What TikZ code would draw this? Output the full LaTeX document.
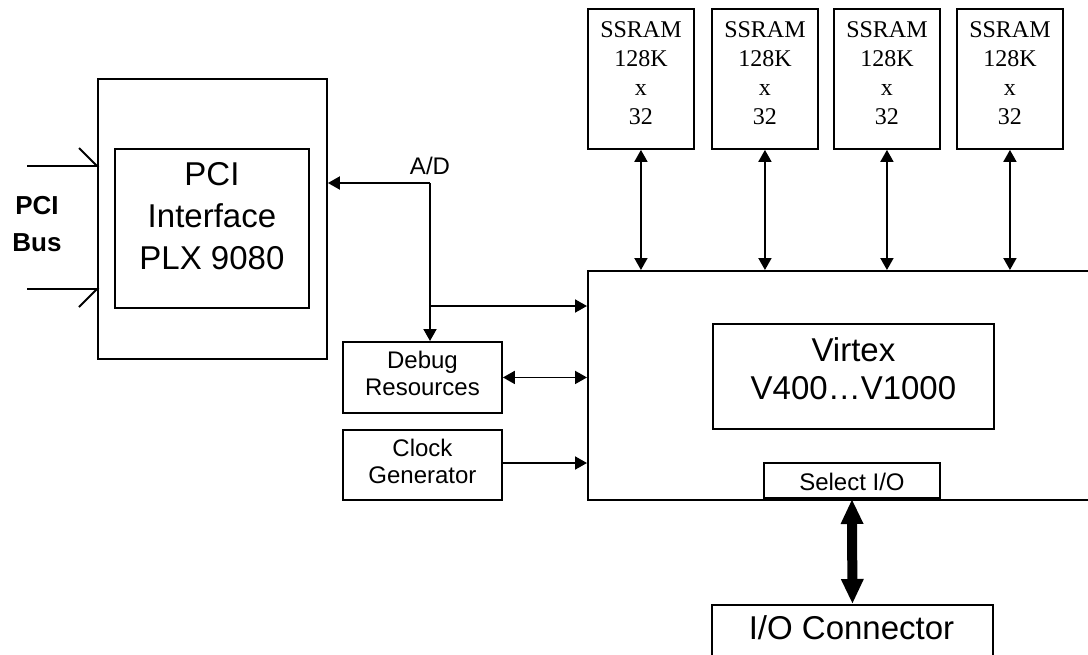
\documentclass[tikz,border=0pt]{standalone}
\usepackage{fontspec}
\setmainfont{Liberation Sans}
\newfontfamily\serifx{Liberation Serif}
\usetikzlibrary{arrows.meta,calc}
\begin{document}
\begin{tikzpicture}[x=1pt,y=-1pt, line width=1.9pt,
 box/.style={draw, inner sep=0pt, anchor=north west, align=center},
 tip/.style={-{Triangle[length=12pt,width=13pt]}},
 dtip/.style={{Triangle[length=12pt,width=13pt]}-{Triangle[length=12pt,width=13pt]}},
 bigf/.style={font=\fontsize{33}{42}\selectfont},
 midf/.style={font=\fontsize{24}{27}\selectfont},
 ssf/.style={font=\serifx\fontsize{24}{29}\selectfont},
 ]
\useasboundingbox (0,0) rectangle (1088,654);
% PCI interface
\node[box, minimum width=229pt, minimum height=280pt] (pci) at (97,78) {};
\node[box, minimum width=194pt, minimum height=159pt] (pciin) at (114,148) {};
\node[bigf, align=center] (pcitxt) at ($(pciin.center)+(0,-12)$) {PCI\\Interface\\PLX 9080};
% PCI bus
\node[font=\bfseries\fontsize{26}{37}\selectfont, align=center] (bus) at (37,224) {PCI\\Bus};
\coordinate (b1) at (27,166);
\coordinate (b2) at (27,289);
\draw (b1) -- (b1 -| pci.west) -- ++(-18,-18);
\draw (b2) -- (b2 -| pci.west) -- ++(-18,18);
% Virtex
\node[box, minimum width=540pt, minimum height=229pt] (vir) at (587,270) {};
\node[box, minimum width=281pt, minimum height=105pt] (virin) at (712,323) {};
\node[align=center, font=\fontsize{33}{38}\selectfont] (virtxt) at ($(virin.center)+(0,-8)$) {Virtex\\V400\ldots V1000};
\node[box, midf, anchor=south west, minimum width=176pt, minimum height=35pt] (sel) at (763,499) {};
\node[midf] (seltxt) at ($(sel.center)+(0,1.5)$) {Select I/O};
% I/O connector
\node[box, minimum width=281pt, minimum height=70pt] (ioc) at (711,604) {};
\node[bigf] (ioctxt) at (851.5,628) {I/O Connector};
\draw[line width=10pt, {Triangle[length=25pt,width=21pt]}-{Triangle[length=25pt,width=21pt]}] (sel.south) -- (ioc.north);
% SSRAMs
\foreach \i/\x in {1/587, 2/711, 3/833, 4/956} {
  \node[box, minimum width=106pt, minimum height=140pt] (s\i) at (\x,8) {};
  \node[ssf, align=center] (st\i) at ($(s\i.center)+(0,-6)$) {SSRAM\\128K\\x\\32};
  \draw[dtip] (s\i.south) -- (s\i.south |- vir.north);
}
% Debug and clock
\node[box, minimum width=159pt, minimum height=71pt] (dbg) at (342,341) {};
\node[midf, align=center] (dbgtxt) at ($(dbg.center)+(0,-4)$) {Debug\\Resources};
\node[box, minimum width=159pt, minimum height=70pt] (clk) at (342,429) {};
\node[midf, align=center] (clktxt) at ($(clk.center)+(0,-4)$) {Clock\\Generator};
% A/D bus
\coordinate (ad) at (430,183);
\node[midf, anchor=south] (adl) at ($(ad)+(0,-4)$) {A/D};
\draw[tip] (ad) -- (ad -| pci.east);
\draw[tip] (ad) -- (ad |- dbg.north);
\coordinate (br) at (430,306);
\draw[tip] (br) -- (br -| vir.west);
\draw[dtip] (dbg.east) -- (dbg.east -| vir.west);
\coordinate (ck) at (clk.east |- 0,463);
\draw[tip] (ck) -- (ck -| vir.west);
\end{tikzpicture}
\end{document}
